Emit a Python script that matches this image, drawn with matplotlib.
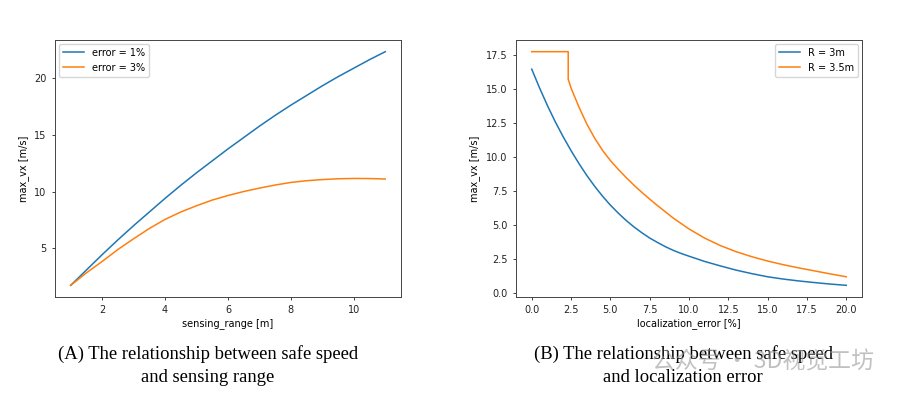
import numpy as np
import matplotlib
matplotlib.use("Agg")
import matplotlib.pyplot as plt

# (A) safe speed vs sensing range
sensing_range = [1, 1.5, 2, 2.5, 3, 3.5, 4, 4.5, 5, 5.5, 6, 6.5, 7, 7.5, 8,
                 8.5, 9, 9.5, 10, 10.5, 11]
vx_err1 = [1.75, 3.1, 4.45, 5.75, 7.0, 8.2, 9.4, 10.55, 11.65, 12.7, 13.75,
           14.75, 15.75, 16.7, 17.6, 18.45, 19.3, 20.1, 20.85, 21.6, 22.3]
vx_err3 = [1.75, 2.85, 3.85, 4.9, 5.85, 6.75, 7.55, 8.2, 8.75, 9.25, 9.65,
           10.0, 10.3, 10.57, 10.8, 10.95, 11.05, 11.12, 11.15, 11.14, 11.1]

# (B) safe speed vs localization error
loc_err_3m = [0, 0.5, 1, 1.5, 2, 2.5, 3, 3.5, 4, 4.5, 5, 5.5, 6, 6.5, 7, 7.5,
              8, 8.5, 9, 9.5, 10, 11, 12, 13, 14, 15, 16, 17, 18, 19, 20]
vx_3m = [16.49, 15.1, 13.8, 12.6, 11.5, 10.48, 9.53, 8.65, 7.85, 7.12, 6.46,
         5.87, 5.33, 4.85, 4.42, 4.03, 3.7, 3.39, 3.12, 2.89, 2.69,
         2.3, 1.97, 1.66, 1.40, 1.17, 1.0, 0.86, 0.74, 0.63, 0.54]
loc_err_35m = [0, 2.32, 2.32, 2.5, 3, 3.5, 4, 4.5, 5, 5.5, 6, 6.5, 7, 7.5, 8,
               9, 10, 11, 12, 13, 14, 15, 16, 17, 18, 19, 20]
vx_35m = [17.78, 17.78, 15.75, 15.1, 13.7, 12.45, 11.4, 10.5, 9.75, 9.1, 8.5,
          7.93, 7.4, 6.9, 6.42, 5.5, 4.7, 4.02, 3.47, 3.02, 2.65, 2.33, 2.06,
          1.82, 1.6, 1.38, 1.17]

W, H = 908, 396
fig = plt.figure(figsize=(W / 100, H / 100), dpi=100)
plt.rcParams['font.size'] = 7

def px_axes(x0, y0, x1, y1):
    return fig.add_axes([x0 / W, 1 - y1 / H, (x1 - x0) / W, (y1 - y0) / H])

axA = px_axes(55, 40, 401, 297)
axB = px_axes(516, 40, 862, 297)

for ax in (axA, axB):
    for s in ax.spines.values():
        s.set_linewidth(0.7)
        s.set_color('#444444')
    ax.tick_params(labelsize=7, width=0.6, length=2.5, colors='#222222')

axA.plot(sensing_range, vx_err1, color='#1f77b4', lw=1.1, label='error = 1%')
axA.plot(sensing_range, vx_err3, color='#ff7f0e', lw=1.1, label='error = 3%')
axA.set_xlabel('sensing_range [m]', fontsize=7, labelpad=2)
axA.set_ylabel('max_vx [m/s]', fontsize=7, labelpad=4)
axA.set_yticks([5, 10, 15, 20])
axA.legend(loc='upper left', fontsize=7, handlelength=2.2, borderaxespad=0.4)

axB.plot(loc_err_3m, vx_3m, color='#1f77b4', lw=1.1, label='R = 3m')
axB.plot(loc_err_35m, vx_35m, color='#ff7f0e', lw=1.1, label='R = 3.5m')
axB.set_xlabel('localization_error [%]', fontsize=7, labelpad=2)
axB.set_ylabel('max_vx [m/s]', fontsize=7, labelpad=4)
axB.set_xticks(np.arange(0, 20.1, 2.5))
axB.set_yticks(np.arange(0, 17.6, 2.5))
axB.legend(loc='upper right', fontsize=7, handlelength=2.2, borderaxespad=0.4)

serif = ['Liberation Serif', 'DejaVu Serif']
cap = dict(ha='center', va='center', fontsize=13.4, family=serif)
fig.text(208 / W, 1 - 354 / H, '(A) The relationship between safe speed', **cap)
fig.text(208 / W, 1 - 377 / H, 'and sensing range', **cap)
fig.text(683 / W, 1 - 354 / H, '(B) The relationship between safe speed', **cap)
fig.text(683 / W, 1 - 377 / H, 'and localization error', **cap)

# watermark
fig.text(652 / W, 1 - 362 / H, '公众号 · 3D视觉工坊', ha='left', va='center',
         fontsize=16.5, color='#999999', alpha=0.6,
         family=['Noto Sans CJK SC', 'DejaVu Sans'])

fig.savefig('out.png', dpi=100)
